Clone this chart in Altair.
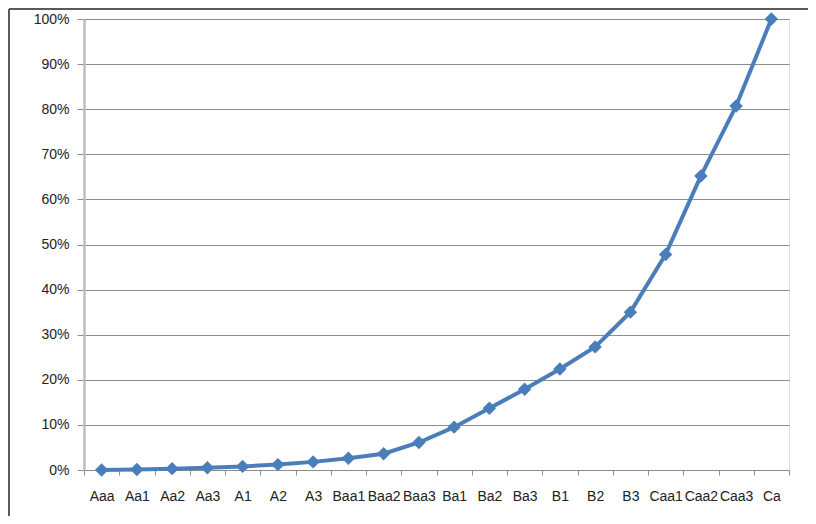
import altair as alt
import pandas as pd

ratings = ["Aaa", "Aa1", "Aa2", "Aa3", "A1", "A2", "A3", "Baa1", "Baa2", "Baa3",
           "Ba1", "Ba2", "Ba3", "B1", "B2", "B3", "Caa1", "Caa2", "Caa3", "Ca"]
values = [0.000, 0.001, 0.003, 0.005, 0.008, 0.012, 0.018, 0.026, 0.036, 0.061,
          0.095, 0.137, 0.179, 0.224, 0.273, 0.350, 0.478, 0.652, 0.807, 1.000]
y_ticks = [0, 0.1, 0.2, 0.3, 0.4, 0.5, 0.6, 0.7, 0.8, 0.9, 1.0]

df = pd.DataFrame({"rating": ratings, "value": values})

FONT = "Liberation Sans"
BLUE = "#4A7EBB"

x_enc = alt.X("rating:N", sort=ratings, title=None,
              scale=alt.Scale(type="band", paddingInner=0, paddingOuter=0),
              axis=alt.Axis(labelAngle=0, domainColor="#8c8c8c", tickColor="#8c8c8c",
                            tickSize=5, tickBand="extent", labelPadding=14,
                            labelFont=FONT, labelFontSize=14, labelColor="#222222",
                            grid=False))
y_enc = alt.Y("value:Q", title=None,
              scale=alt.Scale(domain=[0, 1], nice=False),
              axis=alt.Axis(values=y_ticks, format=".0%", domainColor="#bdbdbd",
                            domainWidth=2.5, tickColor="#8c8c8c", tickSize=7,
                            labelPadding=8, labelFont=FONT, labelFontSize=14,
                            labelColor="#222222", gridColor="#8c8c8c", gridWidth=1))

line = alt.Chart(df).mark_line(color=BLUE, strokeWidth=4).encode(x=x_enc, y=y_enc)
pts = alt.Chart(df).mark_point(shape="diamond", filled=True, color=BLUE, size=180,
                               opacity=1).encode(x=x_enc, y=y_enc)

border_left = alt.Chart(df).mark_rule(color="#595959", strokeWidth=2).encode(
    x=alt.value(-75), y=alt.value(-10), y2=alt.value(497))
border_top = alt.Chart(df).mark_rule(color="#595959", strokeWidth=2).encode(
    x=alt.value(-75), x2=alt.value(724), y=alt.value(-10))

chart = alt.layer(line, pts, border_left, border_top).properties(
    width=705, height=451,
    autosize=alt.AutoSizeParams(type="none"),
    padding={"left": 76, "top": 11, "right": 19, "bottom": 46},
).configure_view(stroke=None).configure(background="white")

chart.save("out.html", embed_options={"renderer": "svg", "actions": False})
